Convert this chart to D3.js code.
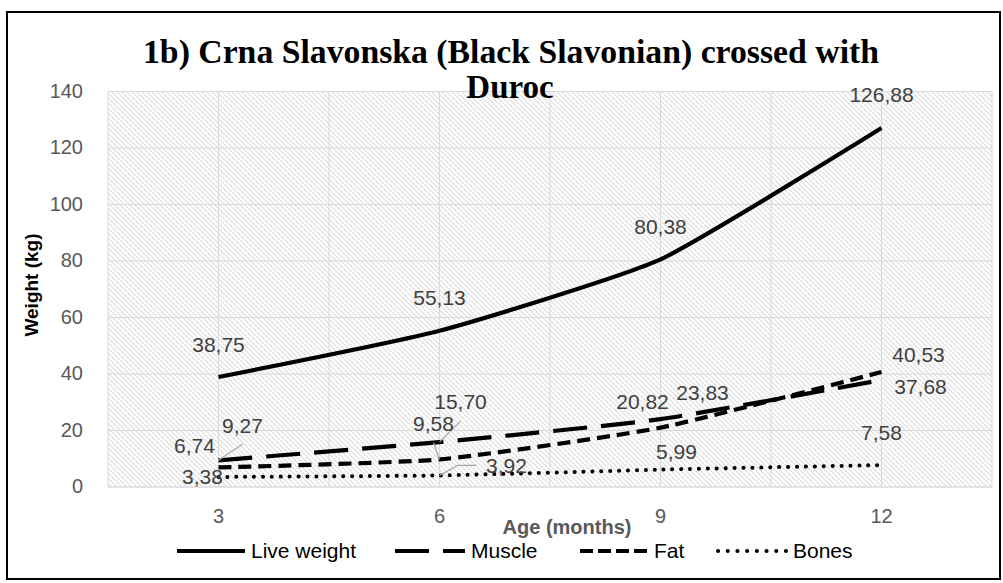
<!DOCTYPE html>
<html>
<head>
<meta charset="utf-8">
<script src="https://cdn.jsdelivr.net/npm/d3@7"></script>
<style>
  body { margin: 0; background: #fff; }
  svg { display: block; }
</style>
</head>
<body>
<div id="chart"></div>
<script>
(function () {

  // data
  var ages = ["3", "6", "9", "12"];
  var liveWeight = [38.75, 55.13, 80.38, 126.88];
  var muscle = [9.27, 15.70, 23.83, 37.68];
  var fat = [6.74, 9.58, 20.82, 40.53];
  var bones = [3.38, 3.92, 5.99, 7.58];
  var seriesNames = ["Live weight", "Muscle", "Fat", "Bones"];
  var yTicks = [0, 20, 40, 60, 80, 100, 120, 140];

  // where Excel's labels were dragged to (dx, dy from the point, leader line?)
  var labelNudges = [
    [[0, -32], [0, -33], [0, -33], [0, -33]],
    [[24, -35, 1], [21, -40, 1], [42, -27], [39, 7]],
    [[-24, -22], [-6, -36, 1], [-18, -26], [37, -17]],
    [[-16, 0], [67, -10, 1], [16, -18], [0, -32]]
  ];

  var dashes = ["none", "34,14", "13,7", "0.1,8.8"];
  var legendDashes = ["none", "34,14", "13,5", "0.1,9.6"];
  var legendX = [177, 395, 580, 718];
  var legendLen = [68, 70, 68, 69];

  var width = 1003, height = 583;
  var plot = { left: 108, right: 992, top: 91, bottom: 486.5 };

  var svg = d3.select("#chart")
    .append("svg")
    .attr("width", width)
    .attr("height", height);

  var defs = svg.append("defs");
  var pat = defs.append("pattern")
    .attr("id", "hatch")
    .attr("patternUnits", "userSpaceOnUse")
    .attr("width", 5)
    .attr("height", 5);
  pat.append("rect").attr("width", 5).attr("height", 5).attr("fill", "#fff");
  pat.append("path")
    .attr("d", "M0,0 L5,5 M-1,4 L1,6 M4,-1 L6,1")
    .attr("stroke", "#dcdcdc")
    .attr("stroke-width", 1.1);

  svg.append("rect")
    .attr("width", width).attr("height", height).attr("fill", "#fff");

  var xScale = d3.scaleBand()
    .domain(ages)
    .range([plot.left, plot.right]);

  var yScale = d3.scaleLinear()
    .domain([0, 140])
    .range([plot.bottom, plot.top]);

  function xPos(a) { return xScale(a) + xScale.bandwidth() / 2; }

  // plot area with hatch
  svg.append("rect")
    .attr("x", plot.left).attr("y", plot.top)
    .attr("width", plot.right - plot.left)
    .attr("height", plot.bottom - plot.top)
    .attr("fill", "url(#hatch)");

  // vertical gridlines at band edges and centres
  var vLines = [];
  ages.forEach(function (a) { vLines.push(xScale(a)); vLines.push(xPos(a)); });
  vLines.push(plot.right);
  svg.append("g").selectAll("line")
    .data(vLines)
    .enter().append("line")
    .attr("x1", function (d) { return d; })
    .attr("x2", function (d) { return d; })
    .attr("y1", plot.top).attr("y2", plot.bottom)
    .attr("stroke", "#d9d9d9").attr("stroke-width", 1);

  // y axis with gridlines
  var yAxis = d3.axisLeft(yScale)
    .tickValues(yTicks)
    .tickSize(-(plot.right - plot.left))
    .tickPadding(25);
  var yg = svg.append("g")
    .attr("class", "axis y-axis")
    .attr("transform", "translate(" + plot.left + ",0)")
    .call(yAxis);
  yg.select(".domain").remove();
  yg.selectAll(".tick line").attr("stroke", "#d9d9d9");
  yg.selectAll(".tick text")
    .attr("fill", "#595959")
    .style("font-family", "Liberation Sans, Arial, sans-serif")
    .style("font-size", "20px");

  // x axis labels
  var xAxis = d3.axisBottom(xScale).tickSize(0).tickPadding(22);
  var xg = svg.append("g")
    .attr("class", "axis x-axis")
    .attr("transform", "translate(0," + plot.bottom + ")")
    .call(xAxis);
  xg.select(".domain").attr("stroke", "#d9d9d9");
  xg.selectAll(".tick text")
    .attr("fill", "#595959")
    .style("font-family", "Liberation Sans, Arial, sans-serif")
    .style("font-size", "20px");

  // lines
  var series = [liveWeight, muscle, fat, bones];
  var line = d3.line()
    .x(function (d, i) { return xPos(ages[i]); })
    .y(function (d) { return yScale(d); })
    .curve(d3.curveCardinal.tension(0.5));

  svg.append("g").selectAll("path")
    .data(series)
    .enter().append("path")
    .attr("d", line)
    .attr("fill", "none")
    .attr("stroke", "#000")
    .attr("stroke-width", function (d, i) { return i === 3 ? 4 : 4.2; })
    .attr("stroke-linecap", function (d, i) { return i === 3 ? "round" : "butt"; })
    .attr("stroke-dasharray", function (d, i) { return dashes[i]; });

  // data labels
  var fmt = function (v) { return d3.format(".2f")(v).replace(".", ","); };
  var labels = [];
  series.forEach(function (s, si) {
    s.forEach(function (v, i) {
      var n = labelNudges[si][i];
      labels.push({
        v: v, px: xPos(ages[i]), py: yScale(v),
        lx: xPos(ages[i]) + n[0], ly: yScale(v) + n[1], leader: n[2]
      });
    });
  });

  svg.append("g").selectAll("path")
    .data(labels.filter(function (d) { return d.leader; }))
    .enter().append("path")
    .attr("d", function (d) {
      if (Math.abs(d.ly - d.py) < 15) {
        return "M" + d.px + "," + d.py + "L" + (d.lx - 49) + "," + d.ly + "L" + (d.lx - 30) + "," + d.ly;
      }
      return "M" + d.px + "," + d.py + "L" + d.lx + "," + (d.ly + 19);
    })
    .attr("fill", "none")
    .attr("stroke", "#a6a6a6")
    .attr("stroke-width", 1.2);

  svg.append("g").selectAll("text")
    .data(labels)
    .enter().append("text")
    .attr("x", function (d) { return d.lx; })
    .attr("y", function (d) { return d.ly; })
    .attr("dy", "0.35em")
    .attr("text-anchor", "middle")
    .attr("fill", "#404040")
    .style("font-family", "Liberation Sans, Arial, sans-serif")
    .style("font-size", "21px")
    .text(function (d) { return fmt(d.v); });

  // axis titles
  svg.append("text")
    .attr("transform", "translate(31,285) rotate(-90)")
    .attr("dy", "0.35em")
    .attr("text-anchor", "middle")
    .attr("fill", "#000")
    .style("font-family", "Liberation Sans, Arial, sans-serif")
    .style("font-size", "19px")
    .style("font-weight", "bold")
    .text("Weight (kg)");

  svg.append("text")
    .attr("x", 567).attr("y", 527)
    .attr("dy", "0.35em")
    .attr("text-anchor", "middle")
    .attr("fill", "#595959")
    .style("font-family", "Liberation Sans, Arial, sans-serif")
    .style("font-size", "20px")
    .style("font-weight", "bold")
    .text("Age (months)");

  // title
  var title = svg.append("text")
    .attr("text-anchor", "middle")
    .attr("fill", "#000")
    .style("font-family", "Liberation Serif, Times New Roman, serif")
    .style("font-size", "33px")
    .style("font-weight", "bold");
  title.append("tspan").attr("x", 511).attr("y", 63)
    .attr("textLength", 736).attr("lengthAdjust", "spacingAndGlyphs")
    .text("1b) Crna Slavonska (Black Slavonian) crossed with");
  title.append("tspan").attr("x", 510).attr("y", 98)
    .text("Duroc");

  // legend
  var lg = svg.append("g").attr("class", "legend");
  seriesNames.forEach(function (name, i) {
    lg.append("line")
      .attr("x1", legendX[i]).attr("x2", legendX[i] + legendLen[i])
      .attr("y1", 551).attr("y2", 551)
      .attr("stroke", "#000")
      .attr("stroke-width", i === 3 ? 4 : 4.2)
      .attr("stroke-linecap", i === 3 ? "round" : "butt")
      .attr("stroke-dasharray", legendDashes[i]);
    lg.append("text")
      .attr("x", legendX[i] + legendLen[i] + 6)
      .attr("y", 551)
      .attr("dy", "0.35em")
      .attr("fill", "#000")
      .style("font-family", "Liberation Sans, Arial, sans-serif")
      .style("font-size", "21px")
      .text(name);
  });

  // chart border
  svg.append("rect")
    .attr("x", 7).attr("y", 12)
    .attr("width", 993).attr("height", 567)
    .attr("fill", "none")
    .attr("stroke", "#000")
    .attr("stroke-width", 2);

})();
</script>
</body>
</html>
